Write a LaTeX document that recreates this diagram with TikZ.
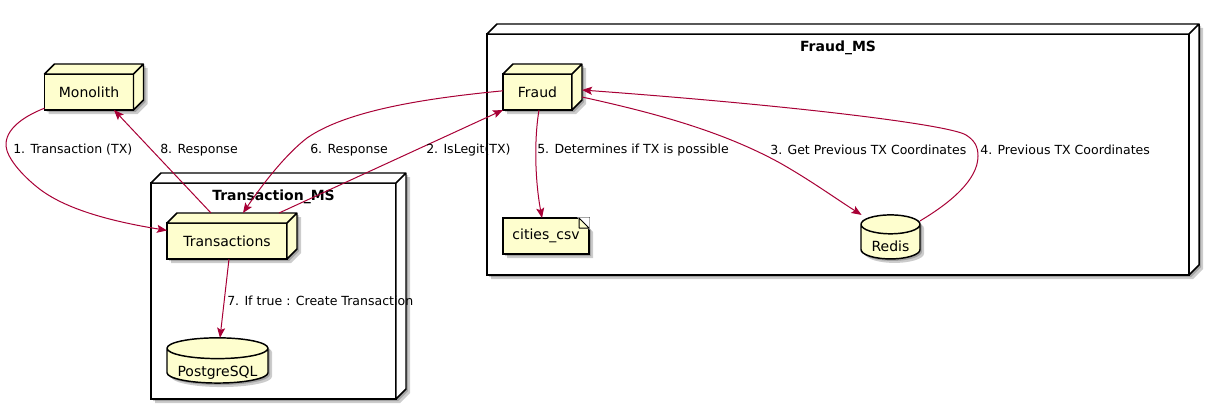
\documentclass[tikz,border=0pt]{standalone}
\usepackage{fontspec}
\setmainfont{DejaVu Sans}
\usepackage{tikz}
\usetikzlibrary{
	arrows.meta,
	positioning,
	shadows,
	shapes.geometric
}
\definecolor{nodefill}{HTML}{FEFECE}
\definecolor{edgered}{HTML}{A80036}
\pgfdeclarelayer{clustershades}
\pgfdeclarelayer{clusters}
\pgfdeclarelayer{shades}
\pgfsetlayers{clustershades,clusters,shades,main}
\tikzset{
	x=0.75pt,y=-0.75pt,
	softshadow/.style={
		general shadow={shadow xshift=1.5pt,shadow yshift=-1.5pt,opacity=.2,fill=black},
		general shadow={shadow xshift=3pt,shadow yshift=-3pt,opacity=.2,fill=black}
	},
	boxsize/.style 2 args={minimum width=#1*0.75pt,minimum height=#2*0.75pt},
	plain/.style={draw=black,line width=1.1pt,inner sep=0pt,outer sep=0pt,font=\fontsize{10.5pt}{12pt}\selectfont},
	cube/.style={plain,rectangle,fill=#1},
	cube/.default=nodefill,
	face/.style={draw=black,line width=1.1pt,line join=round},
	notebox/.style={plain,rectangle,fill=nodefill},
	database/.style={plain,cylinder,shape border rotate=90,fill=nodefill,softshadow},
	title/.style={font=\bfseries\fontsize{10.5pt}{12pt}\selectfont,inner sep=0pt},
	flowlabel/.style={anchor=west,inner sep=0pt,font=\fontsize{9.4pt}{12pt}\selectfont},
	flow/.style={draw=edgered,line width=.75pt,-{Stealth[length=7.5pt,width=6pt,inset=1.5pt]}}
}

\begin{document}
\begin{tikzpicture}
	\useasboundingbox (0,0) rectangle (1219,410);

	\begin{pgfonlayer}{clusters}
		\node[cube=white,boxsize={245}{216}] (transactionms) at (273.5,291) {};
		\node[cube=white,boxsize={702}{241}] (fraudms) at (838,154.5) {};
		\foreach \n in {transactionms,fraudms}
			\draw[face,fill=white] (\n.north west) -- ++(10,-10) -- ([shift={(10,-10)}]\n.north east)
				-- ([shift={(10,-10)}]\n.south east) -- (\n.south east) -- (\n.north east) -- cycle
				(\n.north east) -- ([shift={(10,-10)}]\n.north east);
	\end{pgfonlayer}
	\begin{pgfonlayer}{clustershades}
		\foreach \n in {transactionms,fraudms}
			\path[softshadow] (\n.south west) -- (\n.north west) -- ++(10,-10)
				-- ([shift={(10,-10)}]\n.north east) -- ([shift={(10,-10)}]\n.south east)
				-- (\n.south east) -- cycle;
	\end{pgfonlayer}

	\node[title,below=5pt of transactionms.north] (transactionmstitle) {Transaction\_MS};
	\node[title,below=5pt of fraudms.north] (fraudmstitle) {Fraud\_MS};

	\node[cube,boxsize={89}{36}] (monolith) at (89,92) {Monolith};
	\node[cube,boxsize={120}{36}] (transactions) at (227,241) {Transactions};
	\node[cube,boxsize={69}{36}] (fraud) at (537.5,92) {Fraud};
	\node[notebox,boxsize={86}{36}] (cities) at (546,236) {cities\_csv};
	\node[database,boxsize={101}{45},aspect=.26] (postgres) at (217.5,366) {\raisebox{-5pt}[\height][\depth]{PostgreSQL}};
	\node[database,boxsize={59}{44},aspect=.5] (redis) at (890.5,242) {\raisebox{-3pt}[\height][\depth]{Redis}};

	\begin{pgfonlayer}{shades}
		\foreach \n in {monolith,transactions,fraud}
			\path[softshadow] (\n.south west) -- (\n.north west) -- ++(10,-10)
				-- ([shift={(10,-10)}]\n.north east) -- ([shift={(10,-10)}]\n.south east)
				-- (\n.south east) -- cycle;
		\path[softshadow] (cities.south west) -- (cities.north west) -- ([shift={(-10,0)}]cities.north east)
			-- ([shift={(0,10)}]cities.north east) -- (cities.south east) -- cycle;
	\end{pgfonlayer}

	\foreach \n in {monolith,transactions,fraud}
		\draw[face,fill=nodefill] (\n.north west) -- ++(10,-10) -- ([shift={(10,-10)}]\n.north east)
			-- ([shift={(10,-10)}]\n.south east) -- (\n.south east) -- (\n.north east) -- cycle
			(\n.north east) -- ([shift={(10,-10)}]\n.north east);
	\draw[white,line width=1.1pt,fill=white] ([shift={(-10,0)}]cities.north east) -- (cities.north east)
		-- ([shift={(0,10)}]cities.north east) -- cycle;
	\draw[face,line width=.75pt,fill=nodefill] ([shift={(-10,0)}]cities.north east) -- ([shift={(-10,10)}]cities.north east)
		-- ([shift={(0,10)}]cities.north east) -- cycle;

	\draw[flow] (monolith.200) .. controls (22,117) and (5,130) .. (6,146)
		.. controls (7,158) and (22,175) .. (37,187)
		.. controls (65,210) and (115,222) .. (transactions.170);
	\draw[flow] ([shift={(-16,-10)}]transactions.north) -- ([shift={(25,0)}]monolith.south);
	\draw[flow] (fraud.178) .. controls (440,97) and (350,108) .. (307,138)
		.. controls (285,155) and (262,185) .. ([shift={(16,-10)}]transactions.north);
	\draw[flow] ([shift={(52,-10)}]transactions.north) -- (fraud.south west);
	\draw[flow] ([shift={(10,5)}]fraud.east) .. controls (650,112) and (720,130) .. (780,163)
		.. controls (810,180) and (835,198) .. ([shift={(-29,0)}]redis.north);
	\draw[flow] ([shift={(29.5,6)}]redis.north) .. controls (950,203) and (978,180) .. (978,156)
		.. controls (978,146) and (974,140) .. (966,135)
		.. controls (950,125) and (800,106) .. ([shift={(10,-2)}]fraud.east);
	\draw[flow] ([shift={(1.5,0)}]fraud.south) .. controls (534,140) and (535,180) .. ([shift={(-4,0)}]cities.north);
	\draw[flow] ([shift={(2,0)}]transactions.south) -- ([shift={(2.5,0)}]postgres.north);

	\node[flowlabel] (label1) at (13,150) {1. Transaction (TX)};
	\node[flowlabel] (label2) at (426,150) {2. IsLegit(TX)};
	\node[flowlabel] (label3) at (770,150) {3. Get Previous TX Coordinates};
	\node[flowlabel] (label4) at (980,150) {4. Previous TX Coordinates};
	\node[flowlabel] (label5) at (537,150) {5. Determines if TX is possible};
	\node[flowlabel] (label6) at (310,150) {6. Response};
	\node[flowlabel] (label7) at (227,301) {7. If true : Create Transaction};
	\node[flowlabel] (label8) at (160,150) {8. Response};
\end{tikzpicture}
\end{document}
